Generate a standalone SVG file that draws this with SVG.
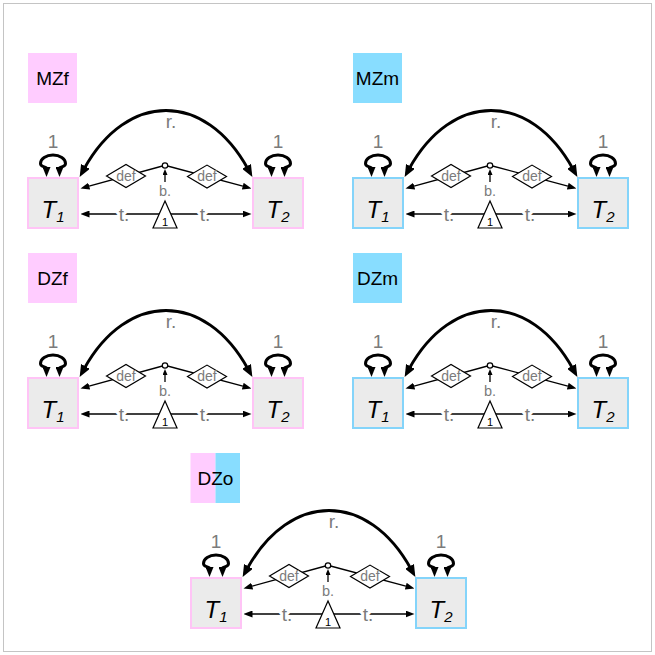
<svg xmlns="http://www.w3.org/2000/svg" width="655" height="655" viewBox="0 0 655 655">
<style>
text{font-family:"Liberation Sans",Arial,sans-serif;}
.lbl{font-size:19px;fill:#000;text-anchor:middle;}
.pinkF{fill:#ffccff;}
.blueF{fill:#88ddff;}
.tbox{fill:#ebebeb;stroke-width:2;}
.pinkS{stroke:#ffc4f6;}
.blueS{stroke:#84d4fa;}
.tv{font-size:24px;font-style:italic;text-anchor:middle;fill:#000;}
.sub{font-size:15px;}
.thick{fill:none;stroke:#000;stroke-width:3;}
.thin{fill:none;stroke:#000;stroke-width:1.3;}
.gl{font-size:19px;fill:#7b7b7b;text-anchor:middle;}
.halo{stroke:#fff;stroke-width:6;paint-order:stroke;stroke-linejoin:round;}
.bl{font-size:14.5px;fill:#7b7b7b;text-anchor:middle;}
.nd{fill:#fff;stroke:#000;stroke-width:1.2;}
.df{font-size:14px;fill:#7b7b7b;text-anchor:middle;}
.one{font-size:11px;fill:#000;text-anchor:middle;}
</style>
<defs>
<marker id="bigHead" viewBox="0 0 12 10" refX="3" refY="5" markerWidth="12" markerHeight="10" markerUnits="userSpaceOnUse" orient="auto-start-reverse"><path d="M0,0 L12,5 L0,10 z" fill="#000"/></marker>
<marker id="loopHead" viewBox="0 0 10 8" refX="1" refY="4" markerWidth="10" markerHeight="8" markerUnits="userSpaceOnUse" orient="90"><path d="M0,0 L10,4 L0,8 z" fill="#000"/></marker>
<marker id="smallHead" viewBox="0 0 9 7" refX="2" refY="3.5" markerWidth="9" markerHeight="7" markerUnits="userSpaceOnUse" orient="auto-start-reverse"><path d="M0,0 L9,3.5 L0,7 z" fill="#000"/></marker>
<marker id="tinyHead" viewBox="0 0 6 5" refX="1" refY="2.5" markerWidth="6" markerHeight="5" markerUnits="userSpaceOnUse" orient="auto"><path d="M0,0 L6,2.5 L0,5 z" fill="#000"/></marker>
</defs>
<rect x="3.5" y="3.5" width="648" height="648" fill="#fff" stroke="#c4c4c4" stroke-width="1"/>

<!-- MZf -->
<g id="MZf" transform="translate(0,0)">
 <g id="MZf-label"><rect class="pinkF" x="28" y="53" width="49" height="50"/><text class="lbl" x="52.5" y="85">MZf</text></g>
 <g id="MZf-T1"><rect class="tbox pinkS" x="28" y="178" width="50" height="50"/><text class="tv" x="53" y="218">T<tspan class="sub" dy="4">1</tspan></text></g>
 <g id="MZf-T2"><rect class="tbox pinkS" x="253" y="178" width="50" height="50"/><text class="tv" x="278" y="218">T<tspan class="sub" dy="4">2</tspan></text></g>
 <g id="MZf-connectors">
  <path class="thick" marker-start="url(#bigHead)" marker-end="url(#bigHead)" d="M84,169 C127,91 205,91 248,169"/>
  <path class="thick" marker-start="url(#loopHead)" marker-end="url(#loopHead)" d="M46.5,168 C44,166 40.5,167 40.5,163.5 A12.5,8.5 0 0 1 65.5,163.5 C65.5,167 62,166 59.5,168"/>
  <path class="thick" marker-start="url(#loopHead)" marker-end="url(#loopHead)" d="M271.5,168 C269,166 265.5,167 265.5,163.5 A12.5,8.5 0 0 1 290.5,163.5 C290.5,167 287,166 284.5,168"/>
  <path class="thin" marker-end="url(#smallHead)" d="M162.5,166 L87.25,186.65"/>
  <path class="thin" marker-end="url(#smallHead)" d="M167.5,166 L244.7,186.7"/>
  <path class="thin" marker-end="url(#tinyHead)" d="M165,182 L165,174"/>
  <path class="thin" marker-start="url(#smallHead)" marker-end="url(#smallHead)" d="M87.5,214 L244.5,214"/>
  <text class="gl" x="171" y="128">r.</text>
  <text class="gl" x="53" y="148">1</text>
  <text class="gl" x="278" y="148">1</text>
  <text class="gl halo" x="124" y="221">t.</text>
  <text class="gl halo" x="205" y="221">t.</text>
  <text class="bl" x="165" y="196">b.</text>
 </g>
 <g id="MZf-mean"><circle class="nd" cx="165" cy="165.5" r="2.7"/></g>
 <g id="MZf-def1"><polygon class="nd" points="106.5,176 126,164.5 145.5,176 126,187.5"/><text class="df" x="126" y="180.5">def</text></g>
 <g id="MZf-def2"><polygon class="nd" points="187.5,176.6 207,165.1 226.5,176.6 207,188.1"/><text class="df" x="207" y="181">def</text></g>
 <g id="MZf-one"><polygon class="nd" points="165,201 153,228 177,228"/><text class="one" x="165" y="225.5">1</text></g>
</g>

<!-- MZm -->
<g id="MZm" transform="translate(325,0)">
 <g id="MZm-label"><rect class="blueF" x="28" y="53" width="49" height="50"/><text class="lbl" x="52.5" y="85">MZm</text></g>
 <g id="MZm-T1"><rect class="tbox blueS" x="28" y="178" width="50" height="50"/><text class="tv" x="53" y="218">T<tspan class="sub" dy="4">1</tspan></text></g>
 <g id="MZm-T2"><rect class="tbox blueS" x="253" y="178" width="50" height="50"/><text class="tv" x="278" y="218">T<tspan class="sub" dy="4">2</tspan></text></g>
 <g id="MZm-connectors">
  <path class="thick" marker-start="url(#bigHead)" marker-end="url(#bigHead)" d="M84,169 C127,91 205,91 248,169"/>
  <path class="thick" marker-start="url(#loopHead)" marker-end="url(#loopHead)" d="M46.5,168 C44,166 40.5,167 40.5,163.5 A12.5,8.5 0 0 1 65.5,163.5 C65.5,167 62,166 59.5,168"/>
  <path class="thick" marker-start="url(#loopHead)" marker-end="url(#loopHead)" d="M271.5,168 C269,166 265.5,167 265.5,163.5 A12.5,8.5 0 0 1 290.5,163.5 C290.5,167 287,166 284.5,168"/>
  <path class="thin" marker-end="url(#smallHead)" d="M162.5,166 L87.25,186.65"/>
  <path class="thin" marker-end="url(#smallHead)" d="M167.5,166 L244.7,186.7"/>
  <path class="thin" marker-end="url(#tinyHead)" d="M165,182 L165,174"/>
  <path class="thin" marker-start="url(#smallHead)" marker-end="url(#smallHead)" d="M87.5,214 L244.5,214"/>
  <text class="gl" x="171" y="128">r.</text>
  <text class="gl" x="53" y="148">1</text>
  <text class="gl" x="278" y="148">1</text>
  <text class="gl halo" x="124" y="221">t.</text>
  <text class="gl halo" x="205" y="221">t.</text>
  <text class="bl" x="165" y="196">b.</text>
 </g>
 <g id="MZm-mean"><circle class="nd" cx="165" cy="165.5" r="2.7"/></g>
 <g id="MZm-def1"><polygon class="nd" points="106.5,176 126,164.5 145.5,176 126,187.5"/><text class="df" x="126" y="180.5">def</text></g>
 <g id="MZm-def2"><polygon class="nd" points="187.5,176.6 207,165.1 226.5,176.6 207,188.1"/><text class="df" x="207" y="181">def</text></g>
 <g id="MZm-one"><polygon class="nd" points="165,201 153,228 177,228"/><text class="one" x="165" y="225.5">1</text></g>
</g>

<!-- DZf -->
<g id="DZf" transform="translate(0,200)">
 <g id="DZf-label"><rect class="pinkF" x="28" y="53" width="49" height="50"/><text class="lbl" x="52.5" y="85">DZf</text></g>
 <g id="DZf-T1"><rect class="tbox pinkS" x="28" y="178" width="50" height="50"/><text class="tv" x="53" y="218">T<tspan class="sub" dy="4">1</tspan></text></g>
 <g id="DZf-T2"><rect class="tbox pinkS" x="253" y="178" width="50" height="50"/><text class="tv" x="278" y="218">T<tspan class="sub" dy="4">2</tspan></text></g>
 <g id="DZf-connectors">
  <path class="thick" marker-start="url(#bigHead)" marker-end="url(#bigHead)" d="M84,169 C127,91 205,91 248,169"/>
  <path class="thick" marker-start="url(#loopHead)" marker-end="url(#loopHead)" d="M46.5,168 C44,166 40.5,167 40.5,163.5 A12.5,8.5 0 0 1 65.5,163.5 C65.5,167 62,166 59.5,168"/>
  <path class="thick" marker-start="url(#loopHead)" marker-end="url(#loopHead)" d="M271.5,168 C269,166 265.5,167 265.5,163.5 A12.5,8.5 0 0 1 290.5,163.5 C290.5,167 287,166 284.5,168"/>
  <path class="thin" marker-end="url(#smallHead)" d="M162.5,166 L87.25,186.65"/>
  <path class="thin" marker-end="url(#smallHead)" d="M167.5,166 L244.7,186.7"/>
  <path class="thin" marker-end="url(#tinyHead)" d="M165,182 L165,174"/>
  <path class="thin" marker-start="url(#smallHead)" marker-end="url(#smallHead)" d="M87.5,214 L244.5,214"/>
  <text class="gl" x="171" y="128">r.</text>
  <text class="gl" x="53" y="148">1</text>
  <text class="gl" x="278" y="148">1</text>
  <text class="gl halo" x="124" y="221">t.</text>
  <text class="gl halo" x="205" y="221">t.</text>
  <text class="bl" x="165" y="196">b.</text>
 </g>
 <g id="DZf-mean"><circle class="nd" cx="165" cy="165.5" r="2.7"/></g>
 <g id="DZf-def1"><polygon class="nd" points="106.5,176 126,164.5 145.5,176 126,187.5"/><text class="df" x="126" y="180.5">def</text></g>
 <g id="DZf-def2"><polygon class="nd" points="187.5,176.6 207,165.1 226.5,176.6 207,188.1"/><text class="df" x="207" y="181">def</text></g>
 <g id="DZf-one"><polygon class="nd" points="165,201 153,228 177,228"/><text class="one" x="165" y="225.5">1</text></g>
</g>

<!-- DZm -->
<g id="DZm" transform="translate(325,200)">
 <g id="DZm-label"><rect class="blueF" x="28" y="53" width="49" height="50"/><text class="lbl" x="52.5" y="85">DZm</text></g>
 <g id="DZm-T1"><rect class="tbox blueS" x="28" y="178" width="50" height="50"/><text class="tv" x="53" y="218">T<tspan class="sub" dy="4">1</tspan></text></g>
 <g id="DZm-T2"><rect class="tbox blueS" x="253" y="178" width="50" height="50"/><text class="tv" x="278" y="218">T<tspan class="sub" dy="4">2</tspan></text></g>
 <g id="DZm-connectors">
  <path class="thick" marker-start="url(#bigHead)" marker-end="url(#bigHead)" d="M84,169 C127,91 205,91 248,169"/>
  <path class="thick" marker-start="url(#loopHead)" marker-end="url(#loopHead)" d="M46.5,168 C44,166 40.5,167 40.5,163.5 A12.5,8.5 0 0 1 65.5,163.5 C65.5,167 62,166 59.5,168"/>
  <path class="thick" marker-start="url(#loopHead)" marker-end="url(#loopHead)" d="M271.5,168 C269,166 265.5,167 265.5,163.5 A12.5,8.5 0 0 1 290.5,163.5 C290.5,167 287,166 284.5,168"/>
  <path class="thin" marker-end="url(#smallHead)" d="M162.5,166 L87.25,186.65"/>
  <path class="thin" marker-end="url(#smallHead)" d="M167.5,166 L244.7,186.7"/>
  <path class="thin" marker-end="url(#tinyHead)" d="M165,182 L165,174"/>
  <path class="thin" marker-start="url(#smallHead)" marker-end="url(#smallHead)" d="M87.5,214 L244.5,214"/>
  <text class="gl" x="171" y="128">r.</text>
  <text class="gl" x="53" y="148">1</text>
  <text class="gl" x="278" y="148">1</text>
  <text class="gl halo" x="124" y="221">t.</text>
  <text class="gl halo" x="205" y="221">t.</text>
  <text class="bl" x="165" y="196">b.</text>
 </g>
 <g id="DZm-mean"><circle class="nd" cx="165" cy="165.5" r="2.7"/></g>
 <g id="DZm-def1"><polygon class="nd" points="106.5,176 126,164.5 145.5,176 126,187.5"/><text class="df" x="126" y="180.5">def</text></g>
 <g id="DZm-def2"><polygon class="nd" points="187.5,176.6 207,165.1 226.5,176.6 207,188.1"/><text class="df" x="207" y="181">def</text></g>
 <g id="DZm-one"><polygon class="nd" points="165,201 153,228 177,228"/><text class="one" x="165" y="225.5">1</text></g>
</g>

<!-- DZo -->
<g id="DZo" transform="translate(163,400)">
 <g id="DZo-label"><rect class="pinkF" x="27.5" y="53" width="25" height="50"/><rect class="blueF" x="52.5" y="53" width="24.5" height="50"/><text class="lbl" x="52.5" y="85">DZo</text></g>
 <g id="DZo-T1"><rect class="tbox pinkS" x="28" y="178" width="50" height="50"/><text class="tv" x="53" y="218">T<tspan class="sub" dy="4">1</tspan></text></g>
 <g id="DZo-T2"><rect class="tbox blueS" x="253" y="178" width="50" height="50"/><text class="tv" x="278" y="218">T<tspan class="sub" dy="4">2</tspan></text></g>
 <g id="DZo-connectors">
  <path class="thick" marker-start="url(#bigHead)" marker-end="url(#bigHead)" d="M84,169 C127,91 205,91 248,169"/>
  <path class="thick" marker-start="url(#loopHead)" marker-end="url(#loopHead)" d="M46.5,168 C44,166 40.5,167 40.5,163.5 A12.5,8.5 0 0 1 65.5,163.5 C65.5,167 62,166 59.5,168"/>
  <path class="thick" marker-start="url(#loopHead)" marker-end="url(#loopHead)" d="M271.5,168 C269,166 265.5,167 265.5,163.5 A12.5,8.5 0 0 1 290.5,163.5 C290.5,167 287,166 284.5,168"/>
  <path class="thin" marker-end="url(#smallHead)" d="M162.5,166 L87.25,186.65"/>
  <path class="thin" marker-end="url(#smallHead)" d="M167.5,166 L244.7,186.7"/>
  <path class="thin" marker-end="url(#tinyHead)" d="M165,182 L165,174"/>
  <path class="thin" marker-start="url(#smallHead)" marker-end="url(#smallHead)" d="M87.5,214 L244.5,214"/>
  <text class="gl" x="171" y="128">r.</text>
  <text class="gl" x="53" y="148">1</text>
  <text class="gl" x="278" y="148">1</text>
  <text class="gl halo" x="124" y="221">t.</text>
  <text class="gl halo" x="205" y="221">t.</text>
  <text class="bl" x="165" y="196">b.</text>
 </g>
 <g id="DZo-mean"><circle class="nd" cx="165" cy="165.5" r="2.7"/></g>
 <g id="DZo-def1"><polygon class="nd" points="106.5,176 126,164.5 145.5,176 126,187.5"/><text class="df" x="126" y="180.5">def</text></g>
 <g id="DZo-def2"><polygon class="nd" points="187.5,176.6 207,165.1 226.5,176.6 207,188.1"/><text class="df" x="207" y="181">def</text></g>
 <g id="DZo-one"><polygon class="nd" points="165,201 153,228 177,228"/><text class="one" x="165" y="225.5">1</text></g>
</g>
</svg>
